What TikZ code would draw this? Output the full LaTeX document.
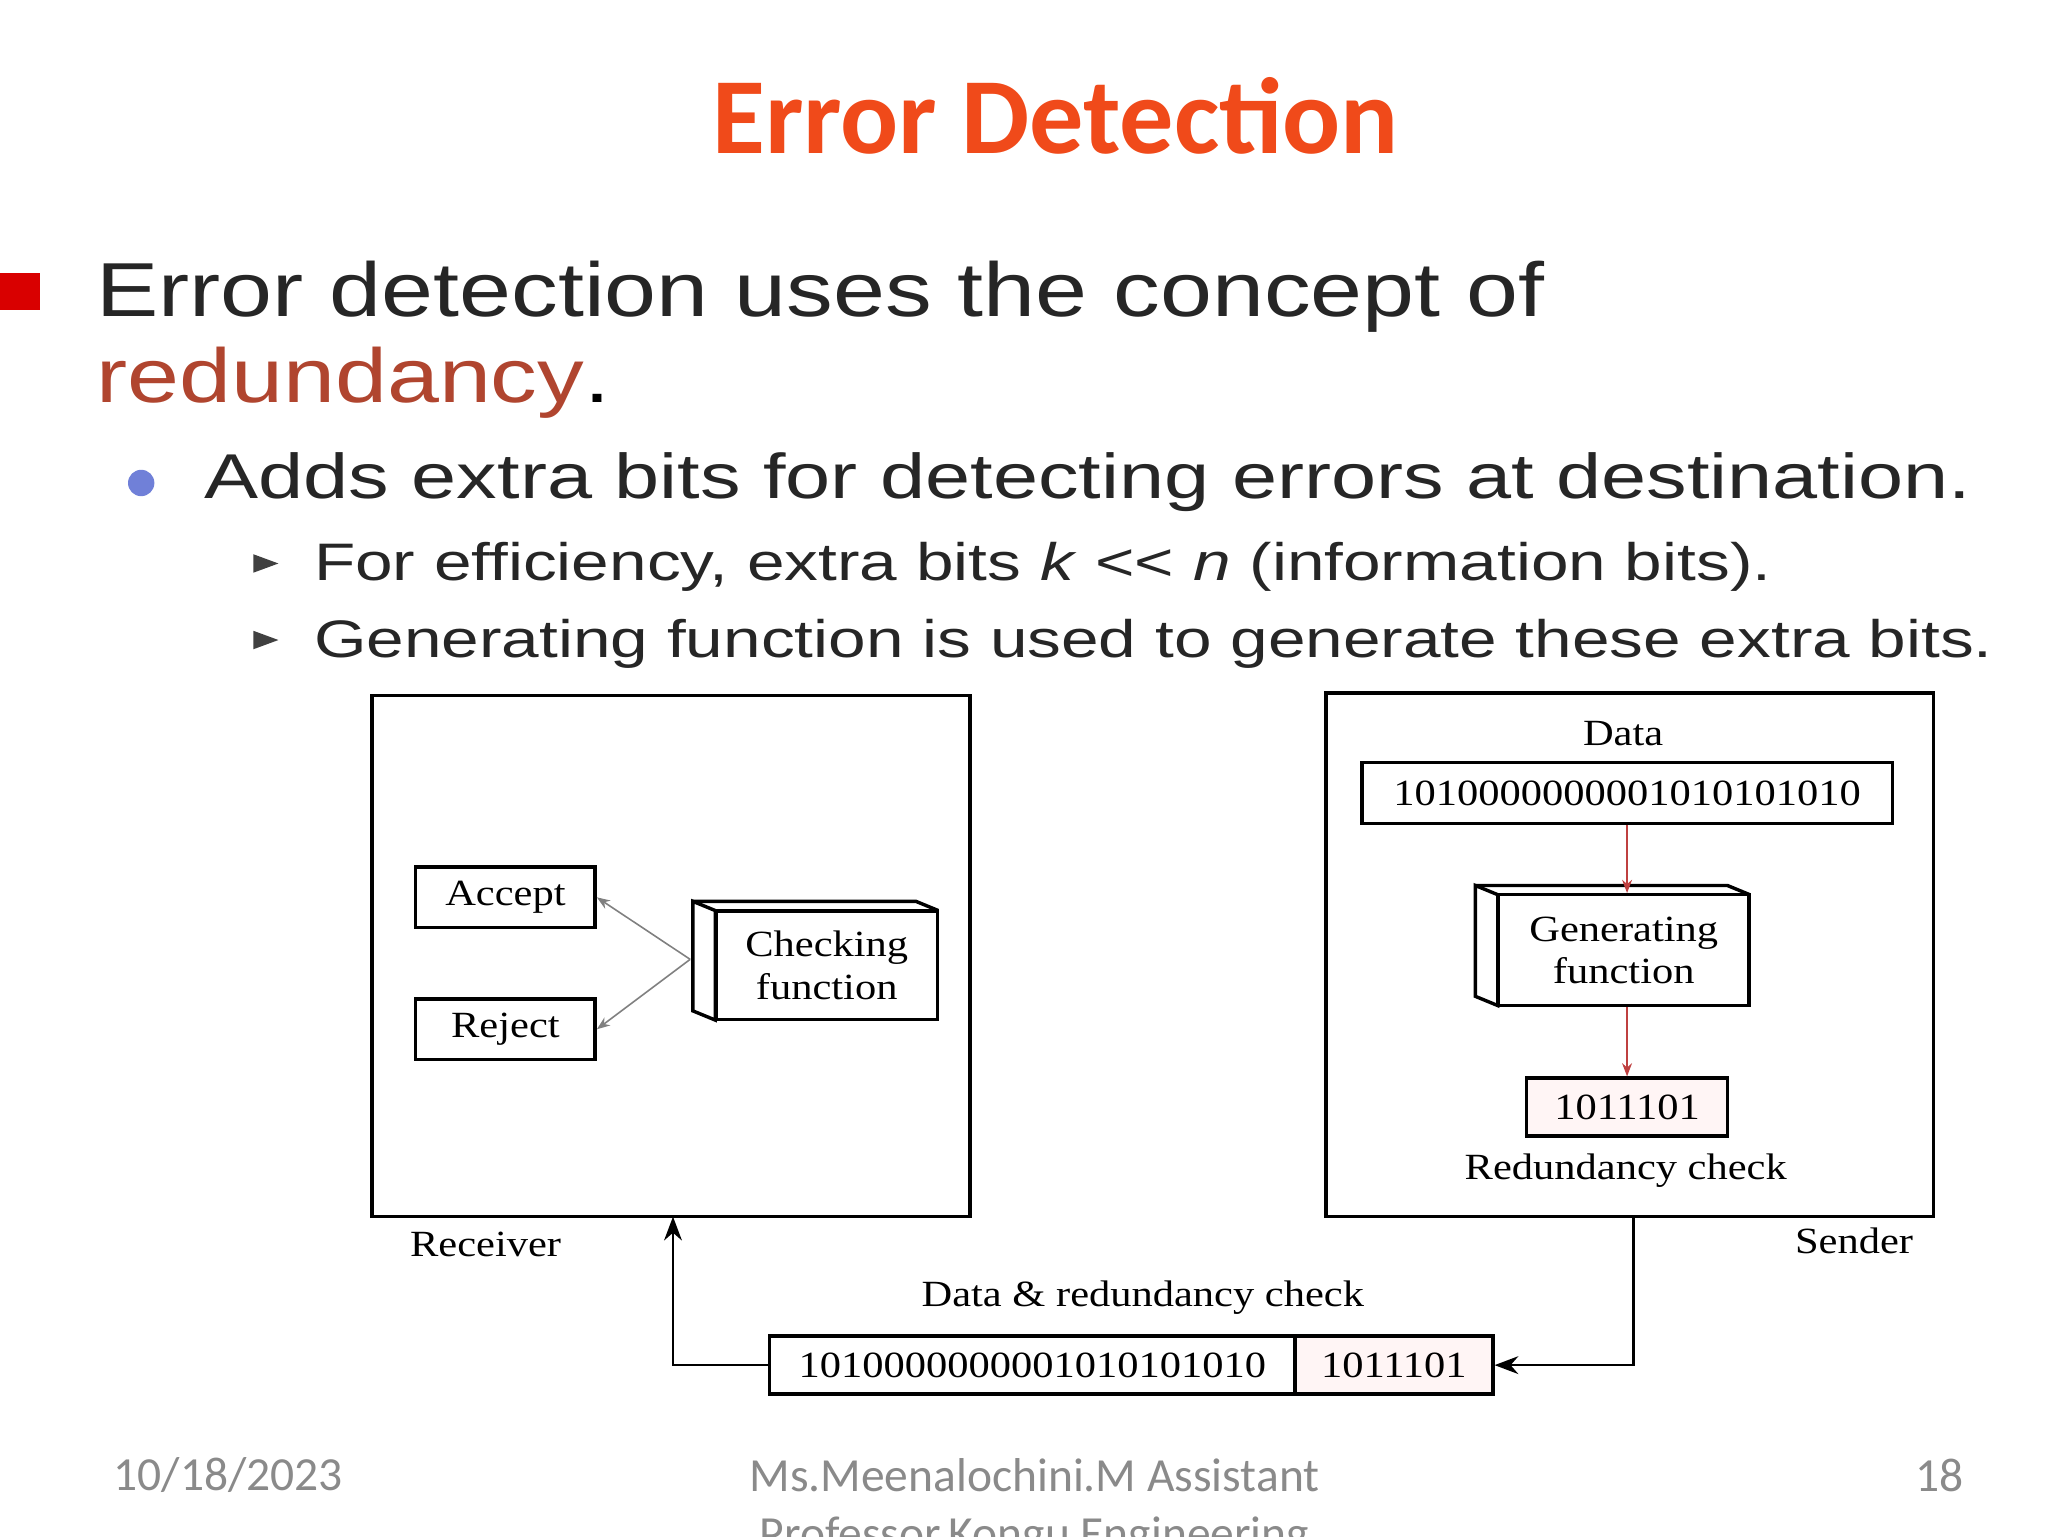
\documentclass[tikz,border=0pt]{standalone}
\usepackage{fontspec}
\setmainfont{Liberation Serif}[FakeStretch=1.15]
\newfontfamily\arialf{Liberation Sans}[FakeStretch=1.22]
\newfontfamily\arialg{Liberation Sans}[FakeStretch=1.28]
\newfontfamily\calf{Carlito}
\usetikzlibrary{arrows.meta}
\definecolor{titleC}{HTML}{F04A1A}
\definecolor{redunC}{HTML}{B0452F}
\definecolor{bulC}{HTML}{7080D8}
\definecolor{footC}{HTML}{8A8A8A}
\begin{document}
\begin{tikzpicture}[x=0.5pt,y=-0.5pt,
  bx/.style={draw,line width=1.3pt},
  dtxt/.style={font=\fontsize{14}{16}\selectfont},
  ln/.style={line width=0.9pt},
  thin/.style={draw=gray,line width=0.6pt,-{Stealth[length=5pt]}}]
\useasboundingbox (0,0) rectangle (1552,1164);
\node[text=titleC,font=\calf\bfseries\fontsize{41}{46}\selectfont] (title) at (800,88) {Error Detection};
\fill[red!85!black] (0,207) rectangle (30,235);
\node[anchor=base west,font=\arialf\fontsize{29}{34}\selectfont,text=black!85] (l1) at (66,240) {Error detection uses the concept of};
\node[anchor=base west,font=\arialf\fontsize{29}{34}\selectfont,text=redunC] (l2) at (66,305) {redundancy\textcolor{black}{.}};
\fill[bulC] (107,366) circle (10);
\node[anchor=base west,font=\arialg\fontsize{24}{28}\selectfont,text=black!85] (l3) at (148,378) {Adds extra bits for detecting errors at destination.};
\fill[black!75] (192,420) -- (211,427) -- (192,434) -- cycle;
\fill[black!75] (192,478) -- (211,485) -- (192,492) -- cycle;
\node[anchor=base west,font=\arialg\fontsize{20}{24}\selectfont,text=black!85] (l4) at (231,440) {For efficiency, extra bits \textit{k} << \textit{n} (information bits).};
\node[anchor=base west,font=\arialg\fontsize{20}{24}\selectfont,text=black!85] (l5) at (231,498) {Generating function is used to generate these extra bits.};
% receiver
\draw[bx] (282,527) rectangle (735,922);
\node[bx,dtxt,minimum width=68pt,minimum height=23pt] (acc) at (383,680) {Accept};
\node[bx,dtxt,minimum width=68pt,minimum height=23pt] (rej) at (383,780) {Reject};
\draw[bx] (525,683) -- (542,690) -- (542,773) -- (525,766) -- cycle;
\draw[bx] (525,683) -- (694,683) -- (711,690);
\node[bx,dtxt,minimum width=84pt,minimum height=41pt,align=center,inner sep=1pt] (chk) at (626.5,731.5) {Checking\\function};
\coordinate (cl) at (523,727);
\draw[thin] (cl) -- (acc.east);
\draw[thin] (cl) -- (rej.east);
\node[dtxt] (recv) at (368,943) {Receiver};
% sender
\draw[bx] (1005,525) rectangle (1465,922);
\node[dtxt] (dlab) at (1230,556) {Data};
\node[bx,dtxt,minimum width=201pt,minimum height=23pt,inner sep=1pt] (data) at (1233,601) {1010000000001010101010};
\draw[bx] (1118,671) -- (1135,678) -- (1135,762) -- (1118,755) -- cycle;
\draw[bx] (1118,671) -- (1309,671) -- (1326,678);
\node[bx,dtxt,minimum width=95pt,minimum height=42pt,align=center,inner sep=1pt] (gen) at (1230.5,720) {Generating\\function};
\node[bx,dtxt,minimum width=76pt,minimum height=22pt,fill=red!4] (rc) at (1233,839) {1011101};
\node[dtxt] (rclab) at (1232,887) {Redundancy check};
\draw[thin,draw=red!50!gray] (data) -- (gen.north -| data);
\draw[thin,draw=red!50!gray] (gen.south -| rc) -- (rc);
\node[dtxt] (send) at (1405,940) {Sender};
% bottom
\node[dtxt] (blab) at (866,983) {Data \& redundancy check};
\node[bx,dtxt,minimum width=199pt,minimum height=22pt,anchor=west,inner sep=1pt] (bd) at (582,1034.5) {1010000000001010101010};
\node[bx,dtxt,minimum width=75pt,minimum height=22pt,anchor=west,fill=red!4] (br) at (980,1034.5) {1011101};
\coordinate (sb) at (1238,922);
\coordinate (rb) at (510,922);
\draw[ln,-{Stealth[length=9pt]}] (sb) |- (br.east);
\draw[ln,-{Stealth[length=9pt]}] (bd.west) -| (rb);
% footer
\node[font=\calf\fontsize{18}{20}\selectfont,text=footC] (date) at (173,1118) {10/18/2023};
\node[font=\calf\fontsize{18}{22}\selectfont,text=footC,align=center,anchor=north] (auth) at (784,1098) {Ms.Meenalochini.M Assistant\\Professor,Kongu Engineering};
\node[font=\calf\fontsize{18}{20}\selectfont,text=footC] (pg) at (1470,1118) {18};
\end{tikzpicture}
\end{document}
